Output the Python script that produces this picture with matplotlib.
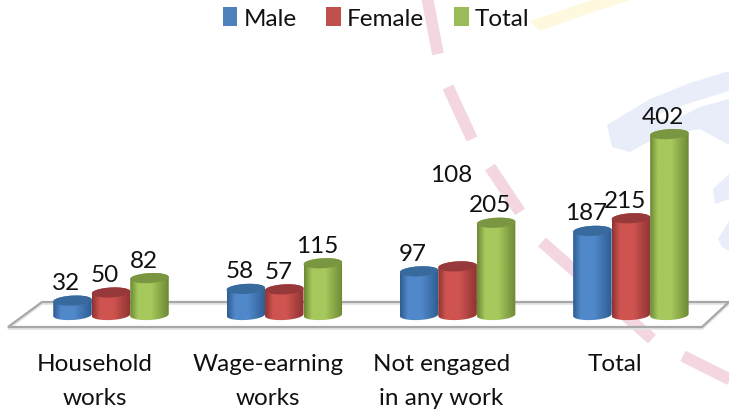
import numpy as np
import matplotlib
matplotlib.use('Agg')
import matplotlib.pyplot as plt
from matplotlib.colors import LinearSegmentedColormap
from matplotlib.patches import PathPatch, Patch, Polygon
from matplotlib.path import Path

categories = ['Household\nworks', 'Wage-earning\nworks', 'Not engaged\nin any work', 'Total']
series_names = ['Male', 'Female', 'Total']
male = [32, 58, 97, 187]
female = [50, 57, 108, 215]
total = [82, 115, 205, 402]

plt.rcParams['font.family'] = ['Lato', 'DejaVu Sans']
W, H = 729, 410
DPI = 100
FS = 17.5
fig = plt.figure(figsize=(W / DPI, H / DPI), dpi=DPI)

# watermark layer in pixel space
bg = fig.add_axes([0, 0, 1, 1], zorder=0)
bg.set_xlim(0, W); bg.set_ylim(H, 0); bg.axis('off')
for (x0, y0, x1, y1) in [(427, -2, 438, 55), (448, 88, 472, 140), (490, 168, 520, 213),
                         (542, 243, 652, 340), (683, 357, 731, 381)]:
    bg.plot([x0, x1], [y0, y1], color='#f3d6e0', lw=8.5, solid_capstyle='butt')
bg.add_patch(Polygon([(530, 22), (560, 12), (600, -2), (640, -2), (590, 14), (540, 32)], fc='#fef9de', ec='none'))
for poly in [[(607, 126), (650, 100), (690, 84), (729, 72), (729, 92), (690, 104), (650, 118), (672, 122),
              (700, 108), (729, 100), (729, 146), (700, 130), (672, 135), (650, 142), (630, 153), (612, 148)],
             [(713, 190), (729, 175), (729, 200), (715, 205)],
             [(718, 240), (729, 222), (729, 252), (722, 248)]]:
    bg.add_patch(Polygon(poly, fc='#e9edf9', ec='none'))

ax = fig.add_axes([0, 0, 1, 1], zorder=1)
ax.patch.set_alpha(0)
PX_X = 173.3          # pixels per category
PX_Y = 0.45           # pixels per value unit
X0, Y0 = 111.0, 316.0 # pixels of first category, value 0
ax.set_xlim(-X0 / PX_X, (W - X0) / PX_X)
ax.set_ylim(-(H - Y0) / PX_Y, Y0 / PX_Y)
ax.axis('off')

px = 1 / PX_X
py = 1 / PX_Y
BAR_W = 38.5 * px
A = BAR_W / 2
B = 5.0 * py

# floor
floor = np.array([[-103 * px, -12 * py], [591 * px, -12 * py], [618 * px, 13 * py], [-69 * px, 13 * py]])
ax.add_patch(Polygon(floor + [0, -1.5 * py], closed=True, fc='none', ec='#e4e4e4', lw=2, zorder=1))
ax.add_patch(Polygon(floor, closed=True, fc='none', ec='#a8a8a8', lw=1.6, zorder=2))

palettes = [('#2f5d92', '#5088ca', '#386a9e'),
            ('#8e3432', '#cf5450', '#97393a'),
            ('#6d8934', '#a6c85c', '#7a9640')]


def cylinder(x, v, pal, z):
    t = np.linspace(0, np.pi, 60)
    lean = 1.0 * py / A
    tx = x + A * np.cos(t)
    bx = x - A * np.cos(t)
    bot = -B * np.sin(t) + lean * (bx - x)
    verts = np.r_[np.c_[tx, v + lean * (tx - x) + B * np.sin(t)], np.c_[bx, bot]]
    cm = LinearSegmentedColormap.from_list('c', [(0, pal[0]), (.2, pal[1]), (.55, pal[1]), (1, pal[0])])
    grad = np.linspace(0, 1, 64)[None, :]
    im = ax.imshow(grad, cmap=cm, extent=[x - A, x + A, -B * 2, v + B * 2], aspect='auto', zorder=z, vmin=0, vmax=1)
    clip = PathPatch(Path(verts, closed=False), transform=ax.transData, fc='none', ec='none')
    ax.add_patch(clip)
    im.set_clip_path(clip)
    etx = np.linspace(0, 2 * np.pi, 80)
    ex = x + A * np.cos(etx)
    ey = v + B * np.sin(etx) + lean * (ex - x)
    ax.add_patch(Polygon(np.c_[ex, ey], fc=pal[2], ec='none', zorder=z + 0.1))


xlim, ylim = ax.get_xlim(), ax.get_ylim()
offsets = [-38.5 * px, 0, 38.5 * px]
all_series = [male, female, total]
label_shift = {(1, 2): 74}  # pixels the label sits above its usual spot
for s, vals in enumerate(all_series):
    for i, v in enumerate(vals):
        xc = i + offsets[s]
        cylinder(xc, v, palettes[s], 3 + s)
        dy = 18 + label_shift.get((s, i), 0)
        ax.annotate(str(v), (xc, v), xytext=(-6 * 0.72, dy * 0.72), textcoords='offset points',
                    ha='center', va='center', fontsize=FS, color='#111111', zorder=10)
ax.set_xlim(xlim); ax.set_ylim(ylim)

for i, c in enumerate(categories):
    ax.annotate(c, (i, 0), xytext=(-16 * 0.72, -38 * 0.72), textcoords='offset points',
                ha='center', va='top', fontsize=FS, color='#111111', linespacing=1.78, zorder=10)

handles = [Patch(fc=c, ec='none') for c in ['#4f81bd', '#c0504d', '#9bbb59']]
leg = ax.legend(handles, series_names, loc='center', bbox_to_anchor=(376 / W, 1 - 19 / H), ncol=3, frameon=False,
                fontsize=FS, handlelength=0.6, handleheight=0.85, handletextpad=0.25, columnspacing=1.23,
                borderpad=0, labelcolor='#111111')
leg.set_zorder(10)

fig.savefig('out.png', dpi=DPI)
